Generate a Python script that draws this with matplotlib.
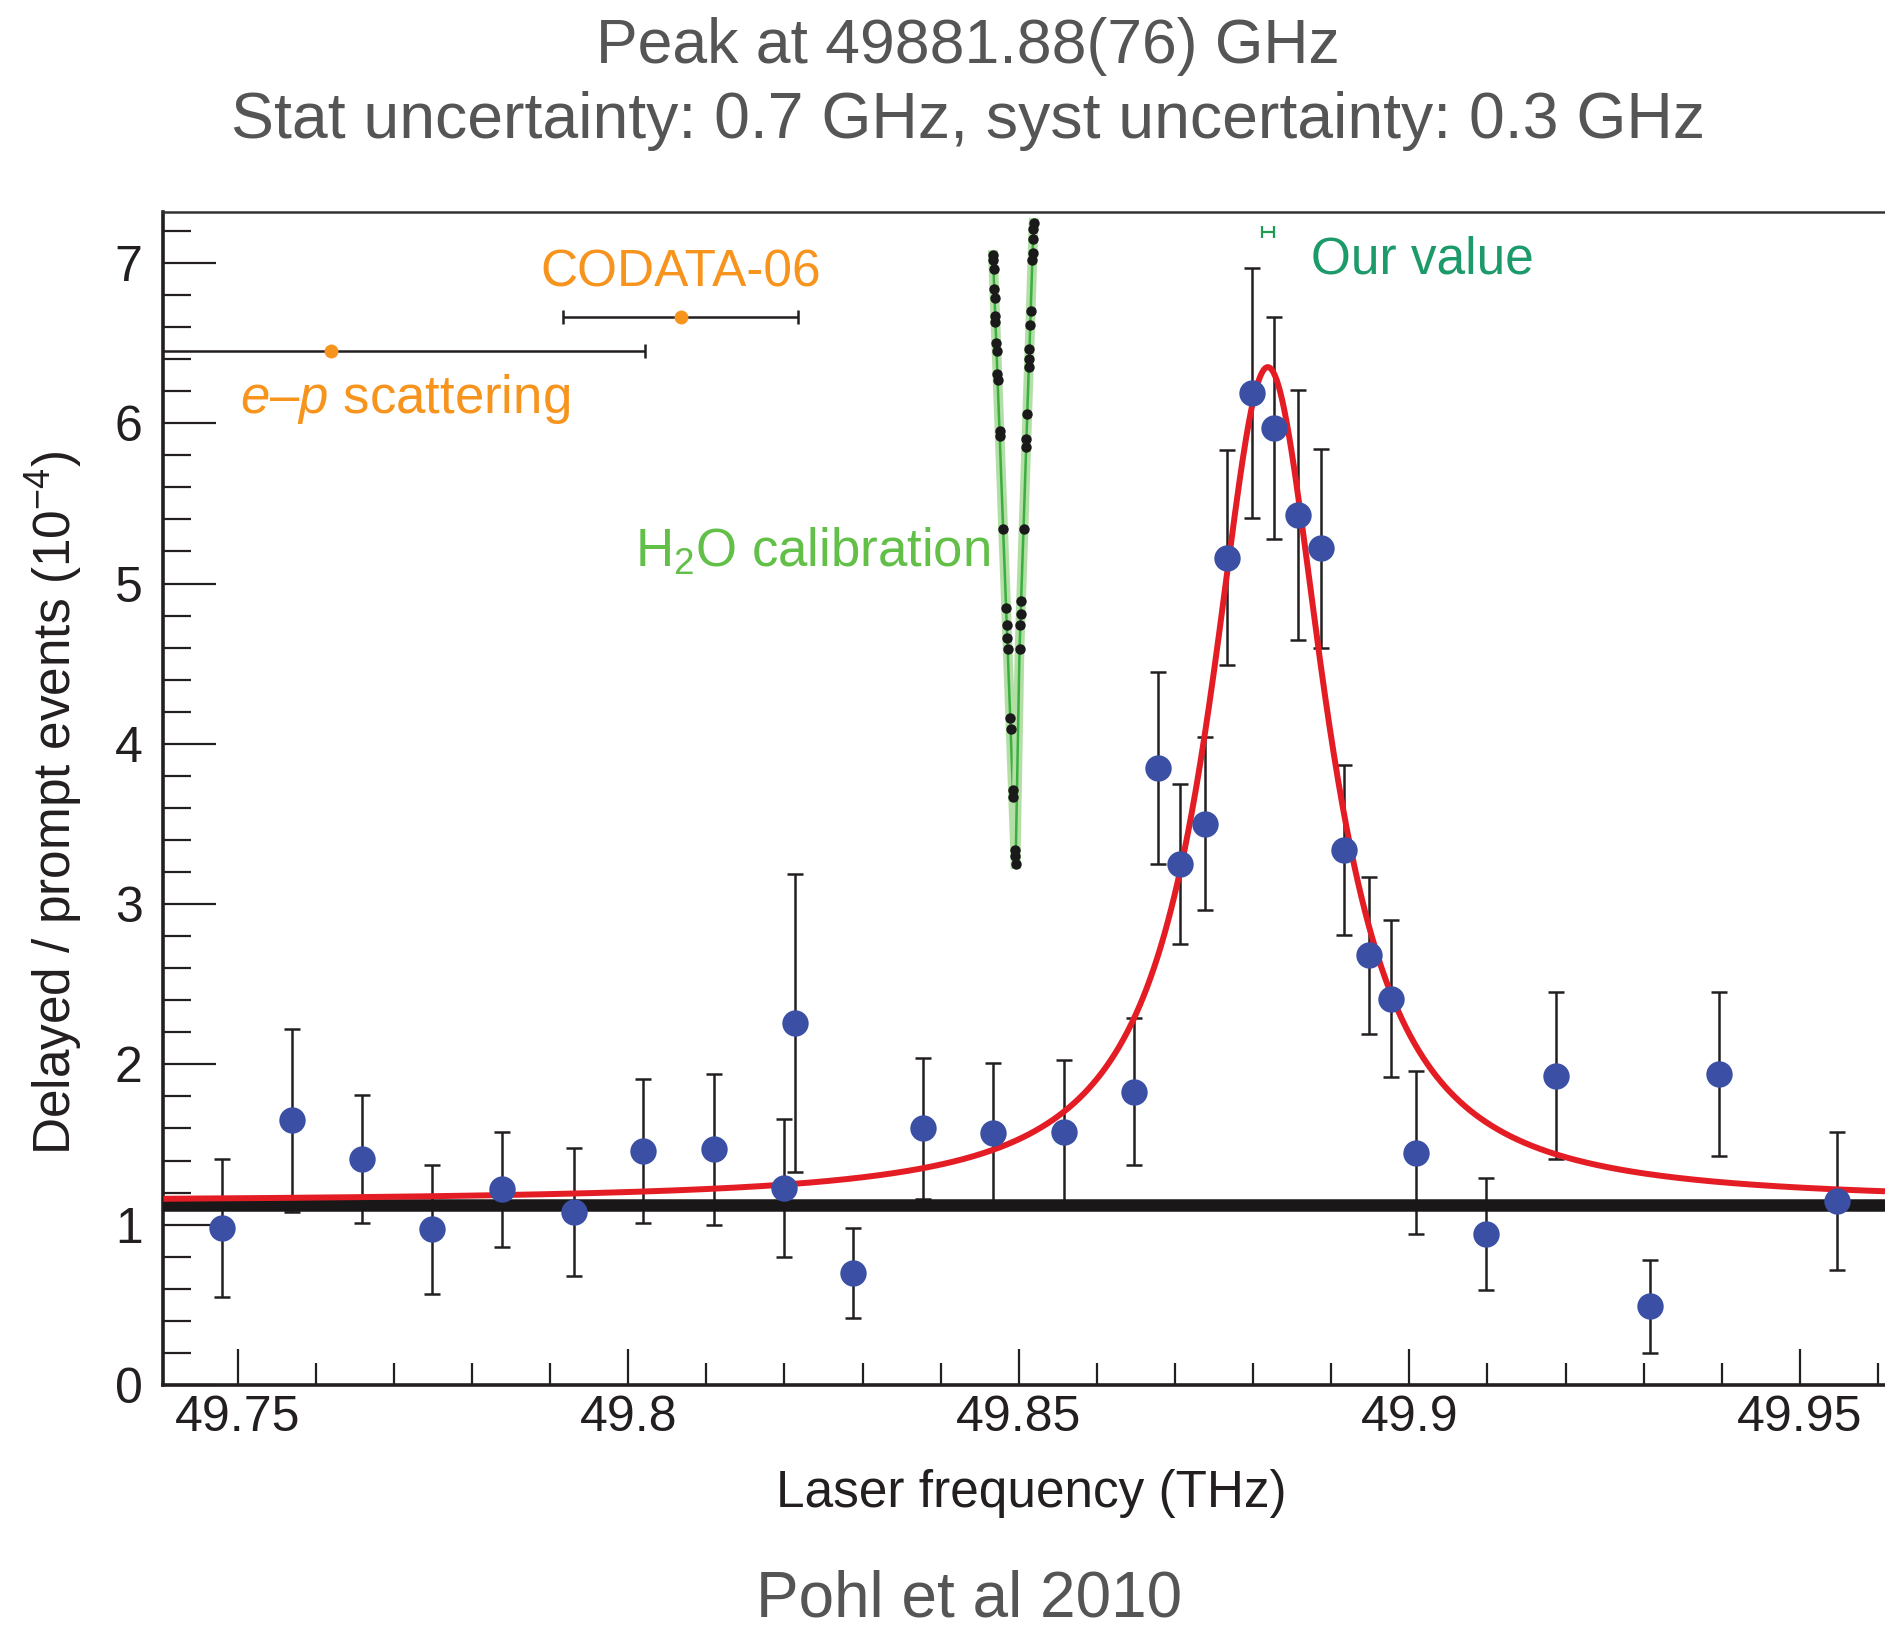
import numpy as np
import matplotlib
matplotlib.use('Agg')
import matplotlib.pyplot as plt
from matplotlib.ticker import MultipleLocator, FuncFormatter

plt.rcParams['font.family'] = ['Liberation Sans', 'DejaVu Sans']
plt.rcParams['mathtext.fontset'] = 'custom'
plt.rcParams['mathtext.rm'] = 'Liberation Sans'
plt.rcParams['mathtext.it'] = 'Liberation Sans:italic'

# muonic hydrogen scan: laser frequency (THz) vs delayed/prompt events (1e-4)
freq = [49.7480, 49.7569, 49.7659, 49.7749, 49.7839, 49.7930, 49.8019, 49.8110,
        49.8199, 49.8213, 49.8288, 49.8378, 49.8467, 49.8558, 49.8647, 49.8678,
        49.8707, 49.8738, 49.8767, 49.8798, 49.8827, 49.8857, 49.8887, 49.8917,
        49.8948, 49.8977, 49.9008, 49.9098, 49.9188, 49.9308, 49.9397, 49.9547]
ratio = [0.98, 1.65, 1.41, 0.97, 1.22, 1.08, 1.46, 1.47,
         1.23, 2.26, 0.70, 1.60, 1.57, 1.58, 1.83, 3.85,
         3.25, 3.50, 5.16, 6.19, 5.97, 5.43, 5.22, 3.34,
         2.68, 2.41, 1.45, 0.94, 1.93, 0.49, 1.94, 1.15]
err = [0.43, 0.57, 0.40, 0.40, 0.36, 0.40, 0.45, 0.47,
       0.43, 0.93, 0.28, 0.44, 0.44, 0.45, 0.46, 0.60,
       0.50, 0.54, 0.67, 0.78, 0.69, 0.78, 0.62, 0.53,
       0.49, 0.49, 0.51, 0.35, 0.52, 0.29, 0.51, 0.43]

# Lorentzian fit + flat background
peak_thz = 49.88188
peak_err = 0.00076
hwhm = 0.0091
amp = 5.21
fit_base = 1.14
background = 1.12

# water-line calibration scans (two strands)
h2o_x1 = [49.84670, 49.84672, 49.84677, 49.84686, 49.84690, 49.84699, 49.84702, 49.84712,
          49.84716, 49.84726, 49.84729, 49.84754, 49.84756, 49.84800, 49.84838, 49.84846,
          49.84852, 49.84858, 49.84891, 49.84896, 49.84925, 49.84928, 49.84953, 49.84956,
          49.84960]
h2o_y1 = [7.05, 7.02, 6.96, 6.84, 6.78, 6.67, 6.63, 6.50,
          6.45, 6.31, 6.27, 5.95, 5.92, 5.34, 4.85, 4.74,
          4.66, 4.59, 4.16, 4.09, 3.71, 3.67, 3.34, 3.30, 3.25]
h2o_x2 = [49.85190, 49.85187, 49.85183, 49.85177, 49.85174, 49.85153, 49.85147, 49.85137,
          49.85132, 49.85129, 49.85109, 49.85099, 49.85095, 49.85061, 49.85030, 49.85025,
          49.85020, 49.85010]
h2o_y2 = [7.25, 7.21, 7.15, 7.06, 7.02, 6.70, 6.61, 6.46,
          6.40, 6.35, 6.06, 5.90, 5.85, 5.34, 4.89, 4.81,
          4.74, 4.59]

# previous determinations (THz) at their plotted heights
codata_x, codata_err, codata_y = 49.8067, 0.0151, 6.66
ep_x, ep_err, ep_y = 49.7619, 0.0403, 6.45

xmin, xmax = 49.7405, 49.9609

fig = plt.figure(figsize=(18.85, 16.28), dpi=100)
ax = fig.add_axes([0.0867, 0.1493, 0.9133, 0.7207])

ink = '#231f20'
orange = '#f7941d'

# data points
ax.errorbar(freq, ratio, yerr=err, fmt='none', ecolor=ink, elinewidth=1.8,
            capsize=6, capthick=1.8, zorder=2)

xf = np.linspace(xmin, xmax, 2000)
fit = fit_base + amp * hwhm**2 / ((xf - peak_thz)**2 + hwhm**2)
ax.plot(xf, fit, color='#e41d25', lw=4.3, zorder=4, solid_capstyle='butt')
ax.axhline(background, color='#1a1718', lw=9, zorder=3)

ax.plot(freq, ratio, 'o', ms=19, color='#3b50a4', mec='none', zorder=6)

# H2O calibration strands
band_x = h2o_x2 + [h2o_x1[-1]]
band_y = h2o_y2 + [h2o_y1[-1]]
for xs, ys in [(h2o_x1, h2o_y1), (band_x, band_y)]:
    ax.plot(xs, ys, color='#b3dfa6', lw=7, zorder=3)
    ax.plot(xs, ys, color='#3aae3f', lw=1.8, zorder=3)
ax.plot(h2o_x1 + h2o_x2, h2o_y1 + h2o_y2, 'o', ms=7.5, color='#1a1a1a',
        mec='none', zorder=4)

# literature values
ax.errorbar(codata_x, codata_y, xerr=codata_err, fmt='o', ms=10, color=orange,
            mec='none', ecolor=ink, elinewidth=1.8, capsize=5, capthick=1.8, zorder=5)
ax.errorbar(ep_x, ep_y, xerr=ep_err, fmt='o', ms=10, color=orange,
            mec='none', ecolor=ink, elinewidth=1.8, capsize=5, capthick=1.8, zorder=5)
ax.errorbar(peak_thz, 7.19, xerr=peak_err, fmt='none', ecolor='#1f9a55',
            elinewidth=1.6, capsize=4, capthick=1.6, zorder=5)

ax.text(codata_x, 6.94, 'CODATA-06', color=orange, fontsize=37,
        ha='center', va='center')
ax.text(49.7503, 6.15, '$e$–$p$ scattering', color=orange, fontsize=38,
        ha='left', va='center')
ax.text(49.8464, 5.20, 'H$_2$O calibration', color='#62bf48', fontsize=38,
        ha='right', va='center')
ax.text(49.8874, 7.02, 'Our value', color='#1c9a6a', fontsize=37,
        ha='left', va='center')

ax.set_xlim(xmin, xmax)
ax.set_ylim(0, 7.32)
ax.xaxis.set_major_locator(MultipleLocator(0.05))
ax.xaxis.set_minor_locator(MultipleLocator(0.01))
ax.xaxis.set_major_formatter(FuncFormatter(lambda v, p: '%g' % round(v, 4)))
ax.yaxis.set_major_locator(MultipleLocator(1))
ax.yaxis.set_minor_locator(MultipleLocator(0.2))

ax.tick_params(axis='x', which='major', direction='in', length=26, width=1.6,
               pad=7, labelsize=36, colors=ink)
ax.tick_params(axis='x', which='minor', direction='in', length=16, width=1.6, colors=ink)
ax.tick_params(axis='y', which='major', direction='in', length=38, width=1.6,
               pad=15, labelsize=36, colors=ink)
ax.tick_params(axis='y', which='minor', direction='in', length=20, width=1.6, colors=ink)

ax.spines['right'].set_visible(False)
ax.spines['left'].set_linewidth(2.6)
ax.spines['bottom'].set_linewidth(2.6)
ax.spines['top'].set_linewidth(1.8)
for s in ['left', 'bottom']:
    ax.spines[s].set_color(ink)
ax.spines['top'].set_color('#333333')

fig.text(0.0287, 0.5068, 'Delayed / prompt events (10$^{-4}$)', rotation=90,
         ha='center', va='center', fontsize=37, color=ink)
fig.text(0.5472, 0.0829, 'Laser frequency (THz)', ha='center', va='center',
         fontsize=37, color=ink)

grey = '#555555'
fig.text(0.5134, 0.9717, 'Peak at 49881.88(76) GHz', ha='center', va='center',
         fontsize=45, color=grey)
fig.text(0.5134, 0.9257, 'Stat uncertainty: 0.7 GHz, syst uncertainty: 0.3 GHz',
         ha='center', va='center', fontsize=46.4, color=grey)
fig.text(0.514, 0.0178, 'Pohl et al 2010', ha='center', va='center',
         fontsize=46, color=grey)

fig.savefig('out.png', dpi=100)
